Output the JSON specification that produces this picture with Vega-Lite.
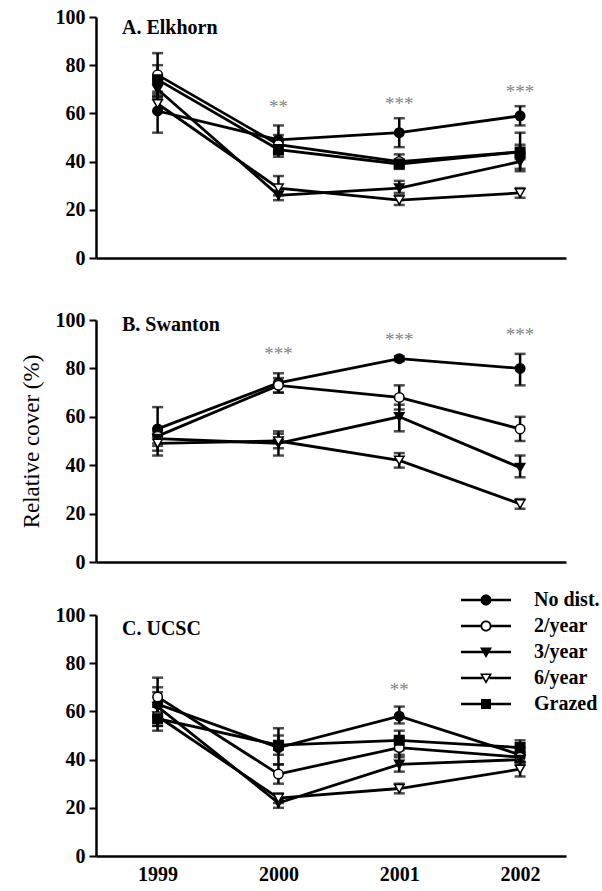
{
  "$schema": "https://vega.github.io/schema/vega-lite/v6.json",
  "padding": {"left": 20, "top": 7, "right": 5, "bottom": 5},
  "background": "white",
  "config": {
    "view": {"stroke": null},
    "font": "Liberation Serif",
    "axis": {
      "domainColor": "black", "domainWidth": 2.5, "tickColor": "black", "tickWidth": 2, "tickSize": 7,
      "labelFont": "Liberation Serif", "labelFontWeight": "bold", "labelFontSize": 20, "labelColor": "black",
      "labelPadding": 4, "grid": false,
      "titleFont": "Liberation Serif", "titleFontWeight": "normal", "titleFontSize": 23, "titleColor": "black", "titlePadding": 12
    },
    "title": {"font": "Liberation Serif", "fontWeight": "bold", "fontSize": 20, "color": "black", "anchor": "start", "frame": "group", "offset": -31, "dx": 26}
  },
  "datasets": {
    "cover": [
      {"site": "Elkhorn", "treatment": "No dist.", "year": 1999, "mean": 61, "lo": 52, "hi": 69},
      {"site": "Elkhorn", "treatment": "No dist.", "year": 2000, "mean": 49, "lo": 43, "hi": 55},
      {"site": "Elkhorn", "treatment": "No dist.", "year": 2001, "mean": 52, "lo": 46, "hi": 58},
      {"site": "Elkhorn", "treatment": "No dist.", "year": 2002, "mean": 59, "lo": 55, "hi": 63},
      {"site": "Elkhorn", "treatment": "2/year", "year": 1999, "mean": 76, "lo": 67, "hi": 85},
      {"site": "Elkhorn", "treatment": "2/year", "year": 2000, "mean": 47, "lo": 44, "hi": 51},
      {"site": "Elkhorn", "treatment": "2/year", "year": 2001, "mean": 40, "lo": 38, "hi": 43},
      {"site": "Elkhorn", "treatment": "2/year", "year": 2002, "mean": 44, "lo": 36, "hi": 52},
      {"site": "Elkhorn", "treatment": "3/year", "year": 1999, "mean": 70, "lo": 66, "hi": 74},
      {"site": "Elkhorn", "treatment": "3/year", "year": 2000, "mean": 26, "lo": 24, "hi": 28},
      {"site": "Elkhorn", "treatment": "3/year", "year": 2001, "mean": 29, "lo": 27, "hi": 32},
      {"site": "Elkhorn", "treatment": "3/year", "year": 2002, "mean": 40, "lo": 37, "hi": 43},
      {"site": "Elkhorn", "treatment": "6/year", "year": 1999, "mean": 64, "lo": 61, "hi": 67},
      {"site": "Elkhorn", "treatment": "6/year", "year": 2000, "mean": 29, "lo": 26, "hi": 34},
      {"site": "Elkhorn", "treatment": "6/year", "year": 2001, "mean": 24, "lo": 22, "hi": 26},
      {"site": "Elkhorn", "treatment": "6/year", "year": 2002, "mean": 27, "lo": 25, "hi": 29},
      {"site": "Elkhorn", "treatment": "Grazed", "year": 1999, "mean": 74, "lo": 68, "hi": 80},
      {"site": "Elkhorn", "treatment": "Grazed", "year": 2000, "mean": 45, "lo": 42, "hi": 48},
      {"site": "Elkhorn", "treatment": "Grazed", "year": 2001, "mean": 39, "lo": 37, "hi": 41},
      {"site": "Elkhorn", "treatment": "Grazed", "year": 2002, "mean": 44, "lo": 41, "hi": 47},
      {"site": "Swanton", "treatment": "No dist.", "year": 1999, "mean": 55, "lo": 46, "hi": 64},
      {"site": "Swanton", "treatment": "No dist.", "year": 2000, "mean": 74, "lo": 70, "hi": 78},
      {"site": "Swanton", "treatment": "No dist.", "year": 2001, "mean": 84, "lo": 83, "hi": 85},
      {"site": "Swanton", "treatment": "No dist.", "year": 2002, "mean": 80, "lo": 73, "hi": 86},
      {"site": "Swanton", "treatment": "2/year", "year": 1999, "mean": 52, "lo": 49, "hi": 55},
      {"site": "Swanton", "treatment": "2/year", "year": 2000, "mean": 73, "lo": 70, "hi": 76},
      {"site": "Swanton", "treatment": "2/year", "year": 2001, "mean": 68, "lo": 63, "hi": 73},
      {"site": "Swanton", "treatment": "2/year", "year": 2002, "mean": 55, "lo": 50, "hi": 60},
      {"site": "Swanton", "treatment": "3/year", "year": 1999, "mean": 51, "lo": 48, "hi": 54},
      {"site": "Swanton", "treatment": "3/year", "year": 2000, "mean": 49, "lo": 44, "hi": 54},
      {"site": "Swanton", "treatment": "3/year", "year": 2001, "mean": 60, "lo": 54, "hi": 65},
      {"site": "Swanton", "treatment": "3/year", "year": 2002, "mean": 39, "lo": 35, "hi": 44},
      {"site": "Swanton", "treatment": "6/year", "year": 1999, "mean": 49, "lo": 44, "hi": 53},
      {"site": "Swanton", "treatment": "6/year", "year": 2000, "mean": 50, "lo": 47, "hi": 53},
      {"site": "Swanton", "treatment": "6/year", "year": 2001, "mean": 42, "lo": 39, "hi": 45},
      {"site": "Swanton", "treatment": "6/year", "year": 2002, "mean": 24, "lo": 22, "hi": 26},
      {"site": "UCSC", "treatment": "No dist.", "year": 1999, "mean": 63, "lo": 58, "hi": 68},
      {"site": "UCSC", "treatment": "No dist.", "year": 2000, "mean": 45, "lo": 38, "hi": 53},
      {"site": "UCSC", "treatment": "No dist.", "year": 2001, "mean": 58, "lo": 55, "hi": 62},
      {"site": "UCSC", "treatment": "No dist.", "year": 2002, "mean": 42, "lo": 39, "hi": 45},
      {"site": "UCSC", "treatment": "2/year", "year": 1999, "mean": 66, "lo": 58, "hi": 74},
      {"site": "UCSC", "treatment": "2/year", "year": 2000, "mean": 34, "lo": 30, "hi": 38},
      {"site": "UCSC", "treatment": "2/year", "year": 2001, "mean": 45, "lo": 41, "hi": 49},
      {"site": "UCSC", "treatment": "2/year", "year": 2002, "mean": 41, "lo": 39, "hi": 43},
      {"site": "UCSC", "treatment": "3/year", "year": 1999, "mean": 62, "lo": 54, "hi": 70},
      {"site": "UCSC", "treatment": "3/year", "year": 2000, "mean": 22, "lo": 20, "hi": 24},
      {"site": "UCSC", "treatment": "3/year", "year": 2001, "mean": 38, "lo": 35, "hi": 42},
      {"site": "UCSC", "treatment": "3/year", "year": 2002, "mean": 40, "lo": 38, "hi": 42},
      {"site": "UCSC", "treatment": "6/year", "year": 1999, "mean": 58, "lo": 54, "hi": 62},
      {"site": "UCSC", "treatment": "6/year", "year": 2000, "mean": 24, "lo": 22, "hi": 26},
      {"site": "UCSC", "treatment": "6/year", "year": 2001, "mean": 28, "lo": 26, "hi": 30},
      {"site": "UCSC", "treatment": "6/year", "year": 2002, "mean": 36, "lo": 33, "hi": 39},
      {"site": "UCSC", "treatment": "Grazed", "year": 1999, "mean": 57, "lo": 52, "hi": 62},
      {"site": "UCSC", "treatment": "Grazed", "year": 2000, "mean": 46, "lo": 42, "hi": 50},
      {"site": "UCSC", "treatment": "Grazed", "year": 2001, "mean": 48, "lo": 44, "hi": 52},
      {"site": "UCSC", "treatment": "Grazed", "year": 2002, "mean": 45, "lo": 42, "hi": 48}
    ],
    "sig": [
      {"site": "Elkhorn", "year": 2000, "ypos": 64, "label": "**"},
      {"site": "Elkhorn", "year": 2001, "ypos": 65, "label": "***"},
      {"site": "Elkhorn", "year": 2002, "ypos": 70, "label": "***"},
      {"site": "Swanton", "year": 2000, "ypos": 87, "label": "***"},
      {"site": "Swanton", "year": 2001, "ypos": 93, "label": "***"},
      {"site": "Swanton", "year": 2002, "ypos": 95, "label": "***"},
      {"site": "UCSC", "year": 2001, "ypos": 70, "label": "**"}
    ]
  },
  "bounds": "flush",
  "spacing": 62,
  "resolve": {"scale": {"shape": "independent", "fill": "independent"}, "legend": {"shape": "independent", "fill": "independent"}},
  "vconcat": [
    {
      "width": 470, "height": 241,
      "title": {"text": "A. Elkhorn"},
      "encoding": {
        "x": {"field": "year", "type": "quantitative", "scale": {"domain": [1998.49, 2002.38], "nice": false, "zero": false}, "axis": {"labels": false, "ticks": false, "title": null}},
        "y": {"field": "mean", "type": "quantitative", "scale": {"domain": [0, 100], "nice": false}, "axis": {"values": [0, 20, 40, 60, 80, 100], "title": null, "labelFont": "Liberation Serif", "labelFontWeight": "bold"}}
      },
      "layer": [
        {"data": {"name": "cover"}, "transform": [{"filter": "datum.site === 'Elkhorn'"}],
         "mark": {"type": "line", "color": "black", "strokeWidth": 2.8},
         "encoding": {"detail": {"field": "treatment", "type": "nominal"}}},
        {"data": {"name": "cover"}, "transform": [{"filter": "datum.site === 'Elkhorn'"}],
         "mark": {"type": "errorbar", "ticks": {"size": 11}, "thickness": 2.5, "color": "black"},
         "encoding": {"y": {"field": "lo", "type": "quantitative", "title": null}, "y2": {"field": "hi"}}},
        {"data": {"name": "cover"}, "transform": [{"filter": "datum.site === 'Elkhorn'"}],
         "mark": {"type": "point", "filled": true, "size": 90, "stroke": "black", "strokeWidth": 1.5, "opacity": 1},
         "encoding": {
           "shape": {"field": "treatment", "type": "nominal", "scale": {"domain": ["No dist.", "2/year", "3/year", "6/year", "Grazed"], "range": ["circle", "circle", "triangle-down", "triangle-down", "square"]}, "legend": null},
           "fill": {"field": "treatment", "type": "nominal", "scale": {"domain": ["No dist.", "2/year", "3/year", "6/year", "Grazed"], "range": ["black", "white", "black", "white", "black"]}, "legend": null}
         }},
        {"data": {"name": "sig"}, "transform": [{"filter": "datum.site === 'Elkhorn'"}],
         "mark": {"type": "text", "color": "#858585", "fontSize": 19, "font": "Liberation Serif", "baseline": "middle", "dy": 3},
         "encoding": {"y": {"field": "ypos", "type": "quantitative"}, "text": {"field": "label"}}}
      ]
    },
    {
      "bounds": "flush",
      "spacing": 53,
      "resolve": {"scale": {"shape": "independent", "fill": "independent"}, "legend": {"shape": "independent", "fill": "independent"}},
      "vconcat": [
        {
          "width": 470, "height": 242,
          "title": {"text": "B. Swanton", "offset": -25},
          "encoding": {
            "x": {"field": "year", "type": "quantitative", "scale": {"domain": [1998.49, 2002.38], "nice": false, "zero": false}, "axis": {"labels": false, "ticks": false, "title": null}},
            "y": {"field": "mean", "type": "quantitative", "scale": {"domain": [0, 100], "nice": false}, "axis": {"values": [0, 20, 40, 60, 80, 100], "title": "Relative cover (%)", "labelFont": "Liberation Serif", "labelFontWeight": "bold", "titleFont": "Liberation Serif", "titleFontWeight": "normal"}}
          },
          "layer": [
            {"data": {"name": "cover"}, "transform": [{"filter": "datum.site === 'Swanton'"}],
             "mark": {"type": "line", "color": "black", "strokeWidth": 2.8},
             "encoding": {"detail": {"field": "treatment", "type": "nominal"}}},
            {"data": {"name": "cover"}, "transform": [{"filter": "datum.site === 'Swanton'"}],
             "mark": {"type": "errorbar", "ticks": {"size": 11}, "thickness": 2.5, "color": "black"},
             "encoding": {"y": {"field": "lo", "type": "quantitative", "title": "Relative cover (%)"}, "y2": {"field": "hi"}}},
            {"data": {"name": "cover"}, "transform": [{"filter": "datum.site === 'Swanton'"}],
             "mark": {"type": "point", "filled": true, "size": 90, "stroke": "black", "strokeWidth": 1.5, "opacity": 1},
             "encoding": {
               "shape": {"field": "treatment", "type": "nominal", "scale": {"domain": ["No dist.", "2/year", "3/year", "6/year", "Grazed"], "range": ["circle", "circle", "triangle-down", "triangle-down", "square"]}, "legend": null},
               "fill": {"field": "treatment", "type": "nominal", "scale": {"domain": ["No dist.", "2/year", "3/year", "6/year", "Grazed"], "range": ["black", "white", "black", "white", "black"]}, "legend": null}
             }},
            {"data": {"name": "sig"}, "transform": [{"filter": "datum.site === 'Swanton'"}],
             "mark": {"type": "text", "color": "#858585", "fontSize": 19, "font": "Liberation Serif", "baseline": "middle", "dy": 3},
             "encoding": {"y": {"field": "ypos", "type": "quantitative"}, "text": {"field": "label"}}}
          ]
        },
        {
          "width": 470, "height": 241,
          "title": {"text": "C. UCSC", "offset": -49},
          "resolve": {"scale": {"shape": "independent", "fill": "independent"}, "legend": {"shape": "independent", "fill": "independent"}},
          "encoding": {
            "x": {"field": "year", "type": "quantitative", "scale": {"domain": [1998.49, 2002.38], "nice": false, "zero": false}, "axis": {"values": [1999, 2000, 2001, 2002], "format": "d", "ticks": false, "title": null, "labelPadding": 8, "labelFontSize": 20, "labelFont": "Liberation Serif", "labelFontWeight": "bold"}},
            "y": {"field": "mean", "type": "quantitative", "scale": {"domain": [0, 100], "nice": false}, "axis": {"values": [0, 20, 40, 60, 80, 100], "title": null, "labelFont": "Liberation Serif", "labelFontWeight": "bold"}}
          },
          "layer": [
            {"data": {"name": "cover"}, "transform": [{"filter": "datum.site === 'UCSC'"}],
             "mark": {"type": "line", "color": "black", "strokeWidth": 2.8},
             "encoding": {"detail": {"field": "treatment", "type": "nominal"}}},
            {"data": {"name": "cover"}, "transform": [{"filter": "datum.site === 'UCSC'"}],
             "mark": {"type": "errorbar", "ticks": {"size": 11}, "thickness": 2.5, "color": "black"},
             "encoding": {"y": {"field": "lo", "type": "quantitative", "title": null}, "y2": {"field": "hi"}}},
            {"data": {"name": "cover"}, "transform": [{"filter": "datum.site === 'UCSC'"}],
             "mark": {"type": "point", "filled": true, "size": 90, "stroke": "black", "strokeWidth": 1.5, "opacity": 1},
             "encoding": {
               "shape": {"field": "treatment", "type": "nominal", "scale": {"domain": ["No dist.", "2/year", "3/year", "6/year", "Grazed"], "range": ["circle", "circle", "triangle-down", "triangle-down", "square"]}, "legend": null},
               "fill": {"field": "treatment", "type": "nominal", "scale": {"domain": ["No dist.", "2/year", "3/year", "6/year", "Grazed"], "range": ["black", "white", "black", "white", "black"]}, "legend": null}
             }},
            {"data": {"name": "sig"}, "transform": [{"filter": "datum.site === 'UCSC'"}],
             "mark": {"type": "text", "color": "#858585", "fontSize": 19, "font": "Liberation Serif", "baseline": "middle", "dy": 3},
             "encoding": {"y": {"field": "ypos", "type": "quantitative"}, "text": {"field": "label"}}},
            {"data": {"name": "cover"}, "transform": [{"filter": "datum.site === 'none'"}],
             "mark": {"type": "point", "filled": true, "size": 100, "color": "black", "strokeWidth": 0, "opacity": 1},
             "encoding": {
               "shape": {"field": "treatment", "type": "nominal",
                 "scale": {"domain": ["No dist.", "2/year", "3/year", "6/year", "Grazed"],
                   "range": [
                     "M-5,-0.25H5V0.25H-5ZM-1.1,0A1.1,1.1 0 1,1 1.1,0A1.1,1.1 0 1,1 -1.1,0Z",
                     "M-5,-0.25H-1.05V0.25H-5ZM1.05,-0.25H5V0.25H1.05ZM-1.1,0A1.1,1.1 0 1,1 1.1,0A1.1,1.1 0 1,1 -1.1,0ZM-0.75,0A0.75,0.75 0 1,0 0.75,0A0.75,0.75 0 1,0 -0.75,0Z",
                     "M-5,-0.25H5V0.25H-5ZM-1.2,-0.9H1.2L0,1.2Z",
                     "M-5,-0.25H-0.69V0.25H-5ZM0.69,-0.25H5V0.25H0.69ZM-1.2,-0.9H1.2L0,1.2ZM-0.65,-0.6L0,0.55L0.65,-0.6Z",
                     "M-5,-0.25H5V0.25H-5ZM-1,-1H1V1H-1Z"
                   ]},
                 "legend": {"orient": "none", "legendX": 380, "legendY": -25, "title": null, "symbolSize": 100, "symbolFillColor": "black", "symbolOpacity": 1, "symbolStrokeWidth": 0, "labelFont": "Liberation Serif", "labelFontWeight": "bold", "labelFontSize": 20, "labelColor": "black", "labelOffset": 38, "rowPadding": 6, "padding": 0}}
             }}
          ]
        }
      ]
    }
  ]
}
